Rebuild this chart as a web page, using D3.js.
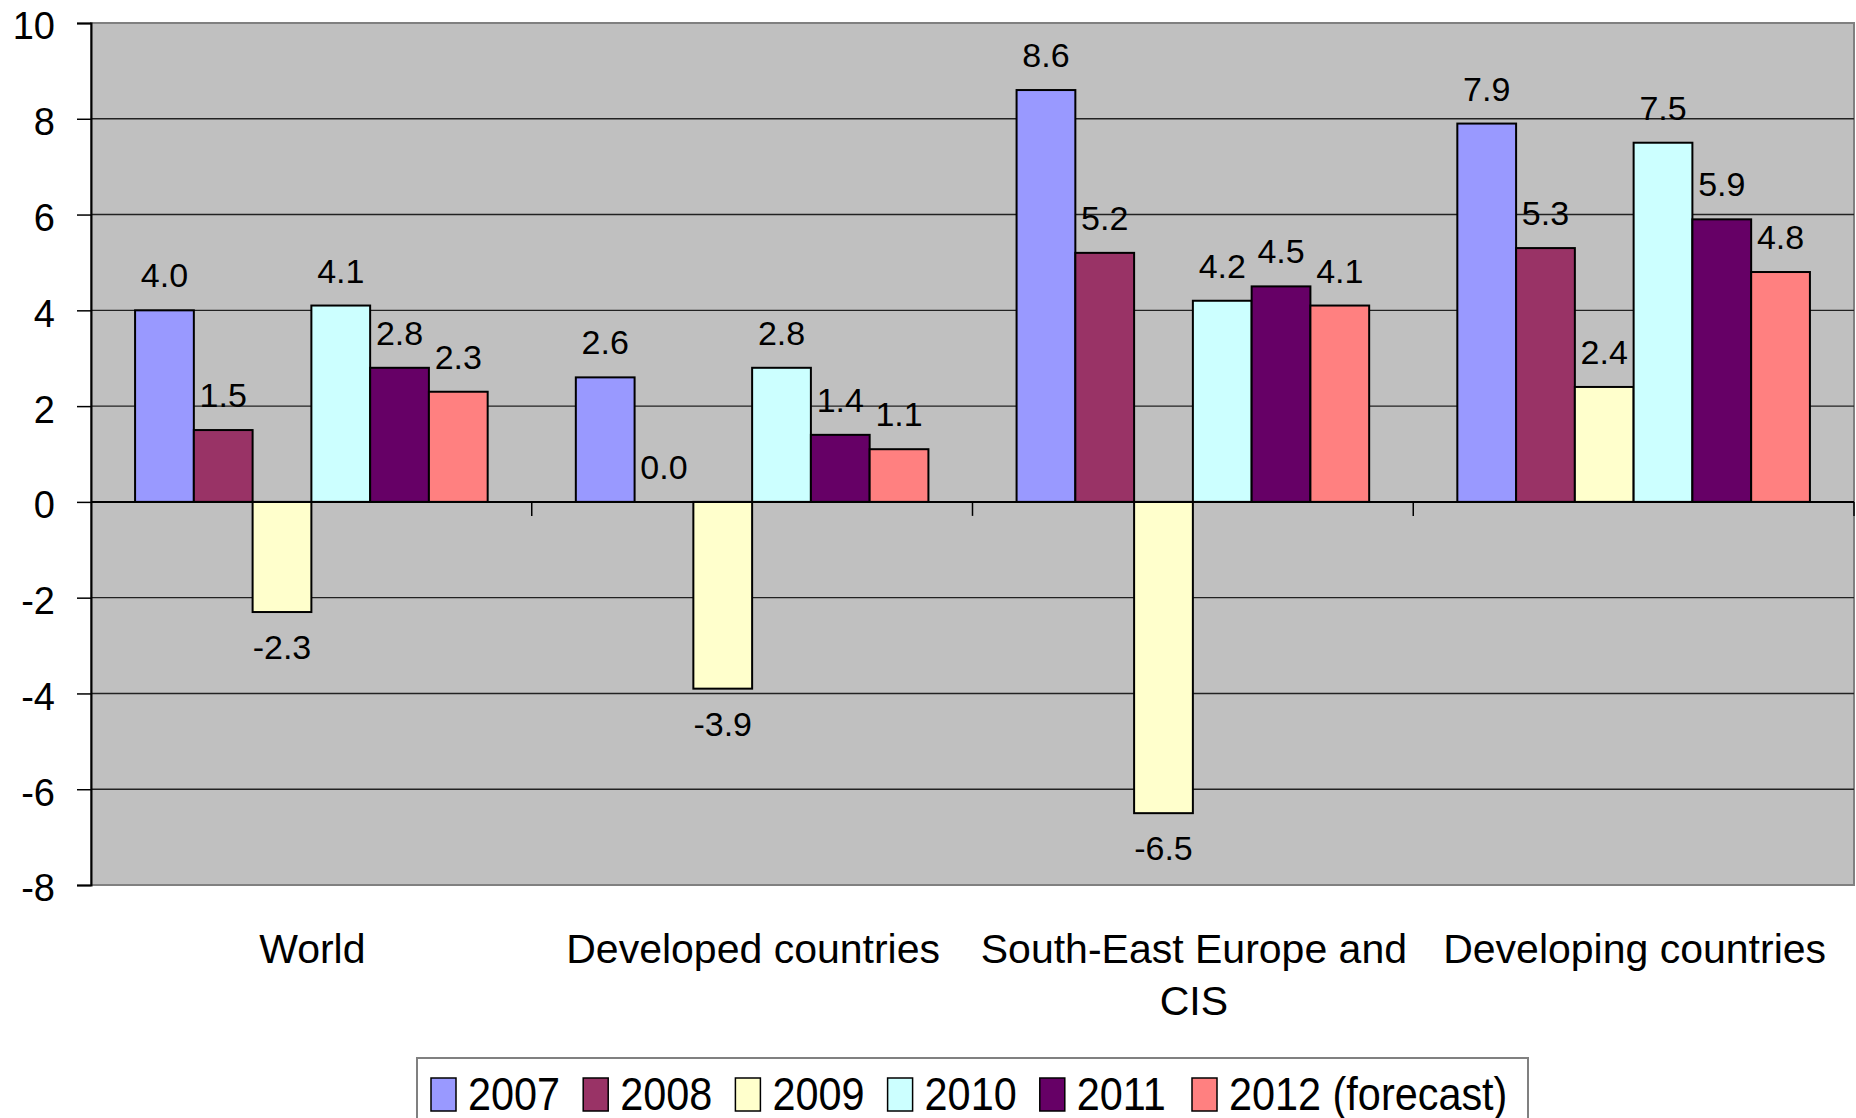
<!DOCTYPE html>
<html>
<head>
<meta charset="utf-8">
<script src="https://cdn.jsdelivr.net/npm/d3@7"></script>
<style>
  html, body { margin: 0; padding: 0; background: #ffffff; }
  svg { display: block; font-family: "Liberation Sans", Arial, sans-serif; }
</style>
</head>
<body>
<svg id="chart" width="1856" height="1118"></svg>
<script>
// Growth rates by region, 2007–2012
const categories = ["World", "Developed countries", "South-East Europe and CIS", "Developing countries"];
const categoryLines = [["World"], ["Developed countries"], ["South-East Europe and", "CIS"], ["Developing countries"]];
const years = ["2007", "2008", "2009", "2010", "2011", "2012 (forecast)"];
const colors = ["#9999FF", "#993366", "#FFFFCC", "#CCFFFF", "#660066", "#FF8080"];

const s2007 = [4.0, 2.6, 8.6, 7.9];
const s2008 = [1.5, 0.0, 5.2, 5.3];
const s2009 = [-2.3, -3.9, -6.5, 2.4];
const s2010 = [4.1, 2.8, 4.2, 7.5];
const s2011 = [2.8, 1.4, 4.5, 5.9];
const s2012 = [2.3, 1.1, 4.1, 4.8];
const series = [s2007, s2008, s2009, s2010, s2011, s2012];

const yTicks = [-8, -6, -4, -2, 0, 2, 4, 6, 8, 10];

// plain hyphen for negative numbers
const locale = d3.formatLocale({ decimal: ".", thousands: ",", grouping: [3], currency: ["", ""], minus: "-" });
const fmtInt = locale.format("d");
const fmtVal = locale.format(".1f");

const svg = d3.select("#chart");
const plot = { left: 91, right: 1854, top: 23, bottom: 885 };

const x0 = d3.scaleBand().domain(categories).range([plot.left, plot.right]).paddingInner(0).paddingOuter(0);
const x1 = d3.scaleBand().domain(years).range([0, x0.bandwidth()]).paddingInner(0).paddingOuter(0.75);
const y = d3.scaleLinear().domain([-8, 10]).range([plot.bottom, plot.top]);

// plot area background
svg.append("rect")
  .attr("x", plot.left).attr("y", plot.top)
  .attr("width", plot.right - plot.left).attr("height", plot.bottom - plot.top)
  .attr("fill", "#C0C0C0").attr("stroke", "#808080").attr("stroke-width", 2);

// horizontal gridlines
svg.append("g").selectAll("line")
  .data(yTicks.filter(t => t > -8 && t < 10 && t !== 0))
  .join("line")
  .attr("x1", plot.left).attr("x2", plot.right)
  .attr("y1", d => y(d)).attr("y2", d => y(d))
  .attr("stroke", "#222").attr("stroke-width", 1.4);

// y axis
const yAxis = d3.axisLeft(y).tickValues(yTicks).tickSize(14).tickPadding(22).tickFormat(fmtInt);
const gy = svg.append("g").attr("transform", `translate(${plot.left},0)`).call(yAxis);
gy.select(".domain").attr("stroke", "#000").attr("stroke-width", 2);
gy.selectAll(".tick line").attr("stroke", "#000").attr("stroke-width", 1.5);
gy.selectAll(".tick text")
  .attr("font-size", 38).attr("fill", "#000")
  .attr("font-family", "'Liberation Sans', Arial, sans-serif")
  .attr("dy", "0.42em");

// bars
const groups = svg.append("g").selectAll("g")
  .data(categories)
  .join("g")
  .attr("transform", d => `translate(${x0(d)},0)`);

groups.each(function (cat, ci) {
  const g = d3.select(this);
  const vals = years.map((yr, si) => ({ yr, si, v: series[si][ci] }));
  g.selectAll("rect")
    .data(vals.filter(d => d.v !== 0))
    .join("rect")
    .attr("x", d => x1(d.yr))
    .attr("y", d => y(Math.max(0, d.v)))
    .attr("width", x1.bandwidth())
    .attr("height", d => Math.abs(y(d.v) - y(0)))
    .attr("fill", d => colors[d.si])
    .attr("stroke", "#000").attr("stroke-width", 2);

  g.selectAll("text")
    .data(vals)
    .join("text")
    .attr("x", d => x1(d.yr) + x1.bandwidth() / 2)
    .attr("y", d => d.v >= 0 ? y(d.v) - 23 : y(d.v) + 47)
    .attr("text-anchor", "middle")
    .attr("font-size", 34)
    .attr("fill", "#000")
    .text(d => fmtVal(d.v));
});

// category axis along zero
svg.append("line")
  .attr("x1", plot.left).attr("x2", plot.right)
  .attr("y1", y(0)).attr("y2", y(0))
  .attr("stroke", "#000").attr("stroke-width", 2);
svg.append("g").selectAll("line")
  .data(categories.slice(1).map(c => x0(c)).concat([plot.right]))
  .join("line")
  .attr("x1", d => d).attr("x2", d => d)
  .attr("y1", y(0)).attr("y2", y(0) + 14)
  .attr("stroke", "#000").attr("stroke-width", 1.5);

// category labels
svg.append("g").selectAll("text")
  .data(categories)
  .join("text")
  .attr("y", 963)
  .attr("text-anchor", "middle")
  .attr("font-size", 41)
  .attr("fill", "#000")
  .each(function (d, i) {
    const t = d3.select(this);
    categoryLines[i].forEach((line, li) => {
      t.append("tspan")
        .attr("x", x0(d) + x0.bandwidth() / 2 + 1)
        .attr("dy", li === 0 ? 0 : 52)
        .text(line);
    });
  });

// legend
const legend = svg.append("g");
legend.append("rect")
  .attr("x", 417).attr("y", 1058)
  .attr("width", 1111).attr("height", 80)
  .attr("fill", "#fff").attr("stroke", "#808080").attr("stroke-width", 2);

const legendX = d3.scalePoint().domain(years).range([431, 1192]);
const items = legend.selectAll("g.item")
  .data(years)
  .join("g")
  .attr("class", "item")
  .attr("transform", d => `translate(${legendX(d)},0)`);
items.append("rect")
  .attr("x", 0).attr("y", 1078)
  .attr("width", 25).attr("height", 33)
  .attr("fill", (d, i) => colors[i])
  .attr("stroke", "#000").attr("stroke-width", 1.5);
items.append("text")
  .attr("transform", "translate(37,1110) scale(0.9,1)")
  .attr("font-size", 46)
  .attr("fill", "#000")
  .text(d => d);
</script>
</body>
</html>
